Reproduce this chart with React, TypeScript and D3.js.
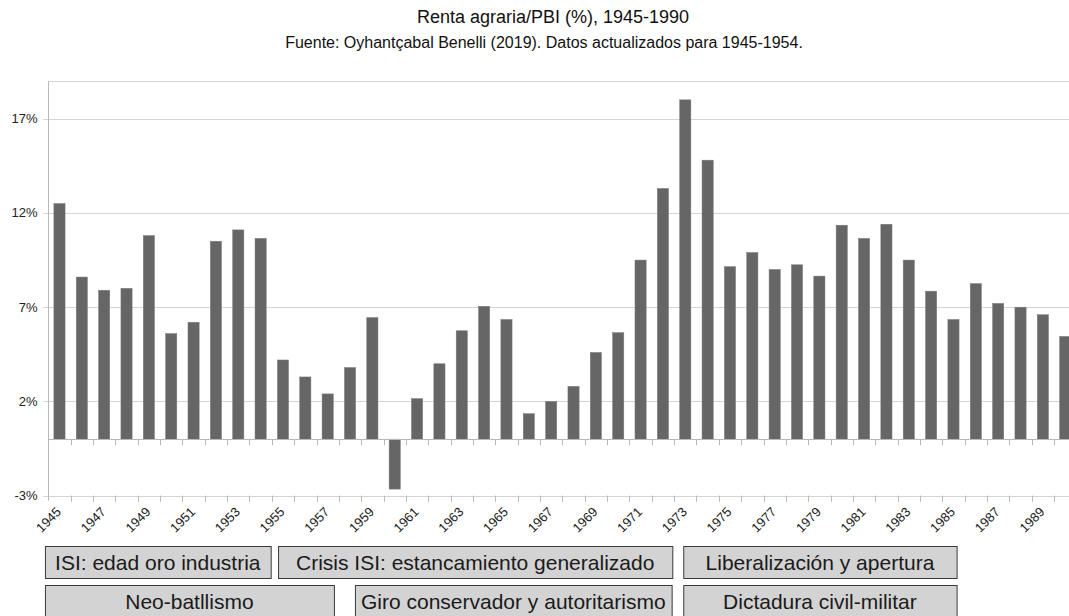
import React from "react";
import * as d3 from "d3";

const years: number[] = d3.range(1945, 1991);
const values: number[] = [
  12.5, 8.6, 7.9, 8.0, 10.8, 5.6, 6.2, 10.5, 11.1, 10.65,
  4.2, 3.3, 2.4, 3.8, 6.45, -2.65, 2.15, 4.0, 5.75, 7.05,
  6.35, 1.35, 2.0, 2.8, 4.6, 5.65, 9.5, 13.3, 18.0, 14.8,
  9.15, 9.9, 9.0, 9.25, 8.65, 11.35, 10.65, 11.4, 9.5, 7.85,
  6.35, 8.25, 7.2, 7.0, 6.6, 5.45,
];
const yTicks: number[] = [-3, 2, 7, 12, 17];
const tickLabelYears: number[] = years.filter((y) => (y - 1945) % 2 === 0 && y < 1990);

const title = "Renta agraria/PBI (%), 1945-1990";
const subtitle = "Fuente: Oyhantçabal Benelli (2019). Datos actualizados para 1945-1954.";

// Periods: [label, from (year position), to (year position)]
const periodsRow1: [string, number, number][] = [
  ["ISI: edad oro industria", 1944.85, 1954.95],
  ["Crisis ISI: estancamiento generalizado", 1955.28, 1972.92],
  ["Liberalización y apertura", 1973.41, 1985.64],
];
const periodsRow2: [string, number, number][] = [
  ["Neo-batllismo", 1944.85, 1957.78],
  ["Giro conservador y autoritarismo", 1958.72, 1972.89],
  ["Dictadura civil-militar", 1973.41, 1985.64],
];

const W = 1069;
const H = 616;
const X0 = 48.3;
const STEP = 22.35;
const TOP = 81;
const BOTTOM = 495.7;

export default function App() {
  const x = d3
    .scaleBand<number>()
    .domain(years)
    .range([X0, X0 + years.length * STEP])
    .paddingInner(0.5)
    .paddingOuter(0.25);
  const step = x.step();
  const y = d3.scaleLinear().domain([-3, 19]).range([BOTTOM, TOP]);
  const yearPos = d3
    .scaleLinear()
    .domain([1945, 1945 + years.length])
    .range([X0, X0 + years.length * step]);

  const font = "'Liberation Sans', Arial, sans-serif";
  const gridColor = "#d4d4d4";
  const axisColor = "#b8b8b8";
  const boundaries = d3.range(1, years.length).map((k) => X0 + k * step);

  const rowBox = (rows: [string, number, number][], y0: number, h: number, baseline: number) =>
    rows.map(([label, a, b], i) => {
      const xa = yearPos(a);
      const xb = yearPos(b);
      return (
        <g key={label + i}>
          <rect x={xa + 0.5} y={y0 + 0.5} width={xb - xa} height={h} fill="#d3d3d3" stroke="#3a3a3a" strokeWidth={1} />
          <text x={(xa + xb) / 2} y={baseline} textAnchor="middle" fontSize={21} fill="#1a1a1a" fontFamily={font}>
            {label}
          </text>
        </g>
      );
    });

  return (
    <svg
      width={W}
      height={H}
      style={{ position: "absolute", left: 0, top: 0, display: "block", background: "#fff" }}
    >
      <rect x={0} y={0} width={W} height={H} fill="#fff" />
      <text x={553} y={23} textAnchor="middle" fontSize={18} fill="#111" fontFamily={font}>
        {title}
      </text>
      <text x={544} y={48} textAnchor="middle" fontSize={16} fill="#111" fontFamily={font}>
        {subtitle}
      </text>

      {/* gridlines */}
      {yTicks.map((t) => (
        <g key={"g" + t}>
          <line x1={X0 - 5} x2={W} y1={Math.round(y(t)) + 0.5} y2={Math.round(y(t)) + 0.5} stroke={gridColor} strokeWidth={1} />
          <text
            x={37.5}
            y={y(t) + 4.5}
            textAnchor="end"
            fontSize={13}
            fill="#222"
            fontFamily={font}
          >
            {t + "%"}
          </text>
        </g>
      ))}
      {/* top frame */}
      <line x1={X0} x2={W} y1={TOP + 0.5} y2={TOP + 0.5} stroke={gridColor} strokeWidth={1} />
      {/* left axis */}
      <line x1={Math.round(X0) + 0.5} x2={Math.round(X0) + 0.5} y1={TOP} y2={BOTTOM + 5} stroke={axisColor} strokeWidth={1} />

      {/* bars */}
      {years.map((yr, i) => {
        const v = values[i];
        const y1 = y(Math.max(0, v));
        const y2 = y(Math.min(0, v));
        return (
          <rect
            key={yr}
            x={x(yr)!}
            y={y1}
            width={x.bandwidth()}
            height={y2 - y1}
            fill="#666666"
            stroke="#7a7a7a"
            strokeWidth={0.5}
          />
        );
      })}

      {/* zero axis */}
      <line x1={X0} x2={W} y1={Math.round(y(0)) + 0.5} y2={Math.round(y(0)) + 0.5} stroke={axisColor} strokeWidth={1} />
      {boundaries.map((bx) => (
        <g key={"t" + bx}>
          <line x1={Math.round(bx) + 0.5} x2={Math.round(bx) + 0.5} y1={y(0)} y2={y(0) + 6} stroke={axisColor} strokeWidth={1} />
          <line x1={Math.round(bx) + 0.5} x2={Math.round(bx) + 0.5} y1={BOTTOM} y2={BOTTOM + 6} stroke={axisColor} strokeWidth={1} />
        </g>
      ))}

      {/* x labels */}
      {tickLabelYears.map((yr) => {
        const cx = x(yr)! + x.bandwidth() / 2 + 2.5;
        const cy = BOTTOM + 17;
        return (
          <g key={"l" + yr} transform={`translate(${cx},${cy}) rotate(-45)`}>
            <text x={0} y={0} textAnchor="end" fontSize={13} fill="#1a1a1a" fontFamily={font}>
              {yr}
            </text>
          </g>
        );
      })}

      {rowBox(periodsRow1, 546, 32, 569.5)}
      {rowBox(periodsRow2, 585, 33, 608.5)}
    </svg>
  );
}
